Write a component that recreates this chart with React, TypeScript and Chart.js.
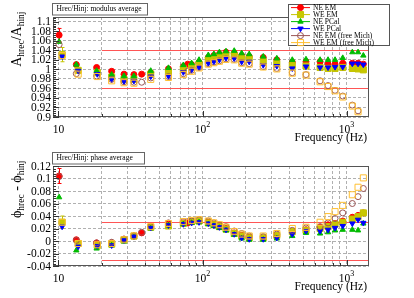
import React, { useEffect, useRef } from "react";
import { Chart, registerables } from "chart.js";
Chart.register(...registerables);

const FONT = '"Liberation Serif", "DejaVu Serif", serif';

// ---------------- data ----------------
const freqNE = [10.1, 13.3, 18.4, 23.4, 28.5, 33.4, 37.8, 43.7, 58, 73.6, 78.9, 84, 94.6, 109.7, 120, 131, 145.6, 166, 187, 211, 264, 328, 420, 523, 655, 744, 832, 941, 1097, 1202, 1308];
const freqWE = [10.6, 13.7, 18.6, 23.4, 28.5, 33.4, 37.8, 43.7, 58, 73.6, 78.9, 84, 94.6, 109.7, 120, 131, 145.6, 166, 187, 211, 264, 328, 420, 523, 655, 744, 832, 941, 1097, 1202, 1308];

// modulus ratio A_hrec / A_hinj
const modNEEM = [1.072, 1.010, 1.004, 0.996, 0.990, 0.989, 0.990, 0.993, 1.001, 1.006, 1.011, 1.010, 1.015, 1.025, 1.029, 1.032, 1.036, 1.034, 1.029, 1.027, 1.025, 1.020, 1.015, 1.016, 1.016, 1.011, 1.011, 1.013, 1.013, 1.013, 1.011];
const modWEEM = [1.031, 0.998, 0.993, 0.984, 0.979, 0.979, null, 0.990, 0.994, 1.001, null, 1.005, 1.011, 1.020, 1.023, 1.027, 1.030, 1.030, 1.023, 1.022, 1.016, 1.012, 1.008, 1.007, 1.004, 1.002, 1.002, 1.004, 1.002, 1.001, 0.999];
const modNEPCal = [1.058, 1.010, 0.997, 0.989, 0.986, 0.986, null, 0.997, 1.003, 1.009, null, 1.013, 1.020, 1.030, 1.032, 1.036, 1.038, 1.039, 1.034, 1.032, 1.027, 1.023, 1.020, 1.021, 1.020, 1.020, 1.020, 1.024, 1.036, 1.036, 1.029];
const modWEPCal = [1.027, 0.997, 0.990, 0.979, 0.975, 0.976, null, 0.985, 0.986, 0.994, null, 0.999, 1.004, 1.013, 1.016, 1.020, 1.024, 1.023, 1.016, 1.016, 1.009, 1.007, 1.002, 1.006, 1.004, 1.004, 1.005, 1.005, 1.012, 1.012, 1.010];
const modNEFree = [1.052, 0.991, 0.986, 0.979, 0.974, 0.973, 0.973, 0.982, 0.985, 0.991, 0.996, 0.998, 1.004, 1.012, 1.015, 1.018, 1.022, 1.021, 1.014, 1.012, 1.006, 1.002, 0.993, 0.989, 0.976, 0.966, 0.956, 0.944, 0.925, 0.913, null];
const modWEFree = [1.029, 0.990, 0.985, 0.976, 0.972, 0.971, null, 0.979, 0.983, 0.989, null, 0.996, 1.003, 1.011, 1.014, 1.017, 1.021, 1.020, 1.013, 1.011, 1.005, 1.001, 0.992, 0.988, 0.974, 0.964, 0.955, 0.942, 0.923, 0.911, null];
const modErrNEEM = [0.014];
const modErrWEEM = [0.015];

// phase difference phi_hrec - phi_hinj
const phNEEM = [0.104, 0.002, -0.003, -0.003, 0.003, 0.008, 0.013, 0.022, 0.027, 0.029, 0.029, 0.031, 0.032, 0.030, 0.027, 0.024, 0.020, 0.013, 0.009, 0.006, 0.005, 0.008, 0.014, 0.018, 0.022, 0.026, 0.028, 0.032, 0.038, 0.041, 0.045];
const phWEEM = [0.030, -0.004, -0.007, -0.005, 0.002, 0.008, null, 0.022, 0.024, 0.028, null, 0.031, 0.032, 0.029, 0.026, 0.023, 0.019, 0.012, 0.008, 0.005, 0.005, 0.009, 0.015, 0.017, 0.020, 0.023, 0.027, 0.030, 0.035, 0.039, 0.045];
const phNEPCal = [0.070, -0.015, -0.012, -0.007, -0.001, 0.006, null, 0.020, 0.025, 0.027, null, 0.029, 0.030, 0.027, 0.024, 0.021, 0.017, 0.010, 0.004, 0.002, 0.002, 0.004, 0.008, 0.013, 0.012, 0.014, 0.017, 0.018, 0.018, 0.017, 0.028];
const phWEPCal = [0.023, -0.009, -0.008, -0.007, 0.001, 0.007, null, 0.021, 0.025, 0.027, null, 0.029, 0.030, 0.028, 0.025, 0.022, 0.018, 0.011, 0.005, 0.003, 0.003, 0.005, 0.011, 0.016, 0.016, 0.018, 0.021, 0.024, 0.028, 0.034, 0.029];
const phNEFree = [0.103, 0.001, -0.003, -0.002, 0.003, 0.008, 0.014, 0.023, 0.029, 0.031, 0.031, 0.032, 0.034, 0.032, 0.029, 0.026, 0.023, 0.016, 0.012, 0.008, 0.007, 0.011, 0.017, 0.021, 0.023, 0.029, 0.036, 0.045, 0.060, 0.071, 0.084];
const phWEFree = [0.030, -0.004, -0.006, -0.004, 0.002, 0.008, null, 0.023, 0.028, 0.031, null, 0.033, 0.034, 0.032, 0.029, 0.026, 0.022, 0.015, 0.011, 0.008, 0.008, 0.012, 0.020, 0.022, 0.030, 0.039, 0.047, 0.057, 0.074, 0.086, 0.101];
const phErrNEEM = [0.012];
const phErrWEEM = [0.010];

const seriesNames = ["NE EM", "WE EM", "NE PCal", "WE PCal", "NE EM (free Mich)", "WE EM (free Mich)"];

const xGridTicks = [10, 20, 30, 40, 50, 60, 70, 80, 90, 100, 200, 300, 400, 500, 600, 700, 800, 900, 1000];
const xLabelTicks = [10, 100, 1000];
const xLabelExp = ["", "2", "3"];
const X_MIN = 9.16;
const X_MAX = 1432;

const modTicks = [0.9, 0.92, 0.94, 0.96, 0.98, 1.0, 1.02, 1.04, 1.06, 1.08, 1.1];
const phaseTicks = [-0.04, -0.02, 0, 0.02, 0.04, 0.06, 0.08, 0.1, 0.12];
const modLimits = [0.96, 1.04];
const phaseLimits = [-0.03, 0.03];
const limitStartHz = 20;

// ---------------- styles ----------------
const STY = [
  { color: "#ff0000", fill: "#ff0000", shape: "circle", r: 3, rot: 0 },
  { color: "#c4c400", fill: "#c8c800", shape: "rect", r: 4.3, rot: 0 },
  { color: "#00bb00", fill: "#00bb00", shape: "triangle", r: 3.1, rot: 0 },
  { color: "#0000ff", fill: "#0000ff", shape: "triangle", r: 3.1, rot: 180 },
  { color: "#9a5555", fill: "rgba(0,0,0,0)", shape: "circle", r: 3, rot: 0 },
  { color: "#ffbf30", fill: "rgba(0,0,0,0)", shape: "rect", r: 4.3, rot: 0 },
];

function fmt(v: number) {
  let s = v.toFixed(2);
  s = s.replace(/0+$/, "").replace(/\.$/, "");
  if (s === "-0") s = "0";
  return s;
}

function build(vals: (number | null)[][], errs: number[][]) {
  return vals.map((arr, i) => {
    const fr = i % 2 === 0 ? freqNE : freqWE;
    const e = errs[i] || [];
    const data = arr
      .map((v, j) => (v == null ? null : { x: fr[j], y: v, e: e[j] || 0 }))
      .filter((d) => d !== null);
    const s = STY[i];
    return {
      label: seriesNames[i],
      data,
      showLine: false,
      pointStyle: s.shape,
      pointRadius: s.r,
      pointRotation: s.rot,
      pointBorderWidth: 1,
      pointBorderColor: s.color,
      pointBackgroundColor: s.fill,
      borderColor: s.color,
      backgroundColor: s.fill,
      order: 5 - i,
    };
  });
}

function drawMarker(ctx: CanvasRenderingContext2D, i: number, x: number, y: number) {
  const s = STY[i];
  ctx.save();
  ctx.fillStyle = s.fill;
  ctx.strokeStyle = s.color;
  ctx.lineWidth = 1;
  ctx.beginPath();
  if (s.shape === "circle") {
    ctx.arc(x, y, s.r, 0, Math.PI * 2);
  } else if (s.shape === "rect") {
    const h = s.r * Math.SQRT1_2;
    ctx.rect(x - h, y - h, 2 * h, 2 * h);
  } else {
    const r = s.r;
    const d = s.rot ? -1 : 1;
    ctx.moveTo(x, y - d * r);
    ctx.lineTo(x + r * 0.866, y + d * r * 0.5);
    ctx.lineTo(x - r * 0.866, y + d * r * 0.5);
    ctx.closePath();
  }
  ctx.fill();
  ctx.stroke();
  ctx.restore();
}

type Part = { t: string; sub?: boolean };

function drawVerticalRich(ctx: CanvasRenderingContext2D, parts: Part[], xBase: number, yEnd: number, big: number, small: number, subShift: number) {
  ctx.save();
  ctx.translate(xBase, yEnd);
  ctx.rotate(-Math.PI / 2);
  ctx.fillStyle = "#000";
  ctx.textAlign = "left";
  ctx.textBaseline = "alphabetic";
  let total = 0;
  const ws = parts.map((p) => {
    ctx.font = `${p.sub ? small : big}px ${FONT}`;
    const w = ctx.measureText(p.t).width;
    total += w;
    return w;
  });
  let cx = -total;
  parts.forEach((p, i) => {
    ctx.font = `${p.sub ? small : big}px ${FONT}`;
    ctx.fillText(p.t, cx, p.sub ? subShift : 0);
    cx += ws[i];
  });
  ctx.restore();
}

type PanelCfg = {
  vals: (number | null)[][];
  errs: number[][];
  yMin: number;
  yMax: number;
  yTicks: number[];
  limits: number[];
  boxText: string;
  boxW: number;
  title: Part[];
  legend: boolean;
};

function makePlugin(p: PanelCfg) {
  return {
    id: "deco",
    beforeDatasetsDraw(chart: any) {
      const { ctx, chartArea: a, scales } = chart;
      const x = scales.x;
      const y = scales.y;
      ctx.save();
      // reference lines
      ctx.strokeStyle = "rgb(255,85,85)";
      ctx.lineWidth = 1;
      p.limits.forEach((v) => {
        const py = Math.round(y.getPixelForValue(v)) + 0.5;
        ctx.beginPath();
        ctx.moveTo(x.getPixelForValue(limitStartHz), py);
        ctx.lineTo(a.right, py);
        ctx.stroke();
      });
      // error bars
      chart.data.datasets.forEach((ds: any, i: number) => {
        ctx.strokeStyle = STY[i].color;
        ds.data.forEach((d: any) => {
          if (!d.e) return;
          const px = Math.round(x.getPixelForValue(d.x)) + 0.5;
          const y1 = y.getPixelForValue(d.y + d.e);
          const y2 = y.getPixelForValue(d.y - d.e);
          ctx.beginPath();
          ctx.moveTo(px, y1);
          ctx.lineTo(px, y2);
          ctx.moveTo(px - 2, y1);
          ctx.lineTo(px + 2, y1);
          ctx.moveTo(px - 2, y2);
          ctx.lineTo(px + 2, y2);
          ctx.stroke();
        });
      });
      ctx.restore();
    },
    afterDraw(chart: any) {
      const { ctx, chartArea: a, scales } = chart;
      const x = scales.x;
      const y = scales.y;
      ctx.save();
      // frame
      ctx.strokeStyle = "#555";
      ctx.lineWidth = 1;
      ctx.strokeRect(a.left + 0.5, a.top + 0.5, a.right - a.left - 1, a.bottom - a.top - 1);
      // x ticks (inward)
      ctx.strokeStyle = "#333";
      ctx.beginPath();
      xGridTicks.forEach((v) => {
        const px = Math.round(x.getPixelForValue(v)) + 0.5;
        const len = xLabelTicks.includes(v) ? 6 : 3;
        ctx.moveTo(px, a.bottom);
        ctx.lineTo(px, a.bottom - len);
      });
      // y ticks (inward)
      const step = p.yTicks[1] - p.yTicks[0];
      for (let k = 0; k <= Math.round((p.yMax - p.yMin) / (step / 5)); k++) {
        const v = p.yMin + (k * step) / 5;
        if (v > p.yMax + 1e-9) break;
        const py = Math.round(y.getPixelForValue(v)) + 0.5;
        const len = k % 5 === 0 ? 6 : 3;
        ctx.moveTo(a.left, py);
        ctx.lineTo(a.left + len, py);
      }
      ctx.stroke();
      // y tick labels
      ctx.fillStyle = "#000";
      ctx.font = `11.5px ${FONT}`;
      ctx.textAlign = "right";
      ctx.textBaseline = "middle";
      p.yTicks.forEach((v) => {
        ctx.fillText(fmt(v), a.left - 2, y.getPixelForValue(v) + 0.5);
      });
      // x tick labels with superscripts
      xLabelTicks.forEach((v, i) => {
        const cx = x.getPixelForValue(v);
        ctx.font = `11.5px ${FONT}`;
        const wb = ctx.measureText("10").width;
        ctx.font = `8px ${FONT}`;
        const we = xLabelExp[i] ? ctx.measureText(xLabelExp[i]).width : 0;
        const x0 = cx - (wb + we) / 2;
        ctx.textAlign = "left";
        ctx.textBaseline = "middle";
        ctx.font = `11.5px ${FONT}`;
        ctx.fillText("10", x0, a.bottom + 12.5);
        if (xLabelExp[i]) {
          ctx.font = `8px ${FONT}`;
          ctx.fillText(xLabelExp[i], x0 + wb, a.bottom + 7.5);
        }
      });
      // x title
      ctx.font = `11.5px ${FONT}`;
      ctx.textAlign = "right";
      ctx.textBaseline = "middle";
      ctx.fillText("Frequency (Hz)", a.right - 2, a.bottom + 20.5);
      // y title
      drawVerticalRich(ctx, p.title, 21, 11.5, 14, 9.5, 3);
      // label box
      ctx.fillStyle = "#fff";
      ctx.fillRect(52, 3, p.boxW, 12);
      ctx.strokeStyle = "#666";
      ctx.strokeRect(52.5, 3.5, p.boxW, 11.5);
      ctx.fillStyle = "#000";
      ctx.font = `7.5px ${FONT}`;
      ctx.textAlign = "left";
      ctx.textBaseline = "middle";
      ctx.fillText(p.boxText, 56.5, 9.5);
      // legend
      if (p.legend) {
        ctx.fillStyle = "#fff";
        ctx.fillRect(288.5, 4.5, 101, 41);
        ctx.strokeStyle = "#555";
        ctx.strokeRect(288.5, 4.5, 101, 41);
        seriesNames.forEach((n, i) => {
          const cy = 7.6 + i * 7;
          ctx.strokeStyle = STY[i].color;
          ctx.lineWidth = 1;
          ctx.beginPath();
          ctx.moveTo(291, cy);
          ctx.lineTo(310, cy);
          ctx.stroke();
          drawMarker(ctx, i, 300.5, cy);
          ctx.fillStyle = "#000";
          ctx.font = `7.5px ${FONT}`;
          ctx.textAlign = "left";
          ctx.textBaseline = "middle";
          ctx.fillText(n, 313, cy + 0.3);
        });
      }
      ctx.restore();
    },
  };
}

function Panel({ cfg, top }: { cfg: PanelCfg; top: number }) {
  const ref = useRef<HTMLCanvasElement>(null);
  useEffect(() => {
    const canvas = ref.current;
    if (!canvas) return;
    const chart = new Chart(canvas, {
      type: "scatter",
      data: { datasets: build(cfg.vals, cfg.errs) as any },
      options: {
        animation: false,
        responsive: false,
        devicePixelRatio: 1,
        layout: { padding: { left: 53, right: 45, top: 17, bottom: 32 } },
        plugins: { legend: { display: false }, tooltip: { enabled: false } },
        scales: {
          x: {
            type: "logarithmic",
            min: X_MIN,
            max: X_MAX,
            afterBuildTicks: (s: any) => {
              s.ticks = xGridTicks.map((v) => ({ value: v }));
            },
            afterFit: (s: any) => {
              s.height = 0;
            },
            ticks: { display: false },
            grid: { color: "#b0b0b0", lineWidth: 1, drawTicks: false },
            border: { display: false, dash: [3, 2] },
          },
          y: {
            type: "linear",
            min: cfg.yMin,
            max: cfg.yMax,
            afterBuildTicks: (s: any) => {
              s.ticks = cfg.yTicks.map((v) => ({ value: v }));
            },
            afterFit: (s: any) => {
              s.width = 0;
            },
            ticks: { display: false },
            grid: { color: "#b0b0b0", lineWidth: 1, drawTicks: false },
            border: { display: false, dash: [3, 2] },
          },
        },
      } as any,
      plugins: [makePlugin(cfg) as any],
    });
    return () => chart.destroy();
  }, []);
  return (
    <canvas
      ref={ref}
      width={414}
      height={149}
      style={{ position: "absolute", left: 0, top, width: 414, height: 149 }}
    />
  );
}

const topCfg: PanelCfg = {
  vals: [modNEEM, modWEEM, modNEPCal, modWEPCal, modNEFree, modWEFree],
  errs: [modErrNEEM, modErrWEEM],
  yMin: 0.9,
  yMax: 1.11,
  yTicks: modTicks,
  limits: modLimits,
  boxText: "Hrec/Hinj: modulus average",
  boxW: 95,
  title: [{ t: "A" }, { t: "hrec", sub: true }, { t: "/A" }, { t: "hinj", sub: true }],
  legend: true,
};

const botCfg: PanelCfg = {
  vals: [phNEEM, phWEEM, phNEPCal, phWEPCal, phNEFree, phWEFree],
  errs: [phErrNEEM, phErrWEEM],
  yMin: -0.04,
  yMax: 0.12,
  yTicks: phaseTicks,
  limits: phaseLimits,
  boxText: "Hrec/Hinj: phase average",
  boxW: 92,
  title: [{ t: "ϕ" }, { t: "hrec", sub: true }, { t: " - ϕ" }, { t: "hinj", sub: true }],
  legend: false,
};

export default function App() {
  return (
    <div style={{ position: "fixed", left: 0, top: 0, width: 414, height: 298, background: "#fff" }}>
      <Panel cfg={topCfg} top={0} />
      <Panel cfg={botCfg} top={149} />
    </div>
  );
}
